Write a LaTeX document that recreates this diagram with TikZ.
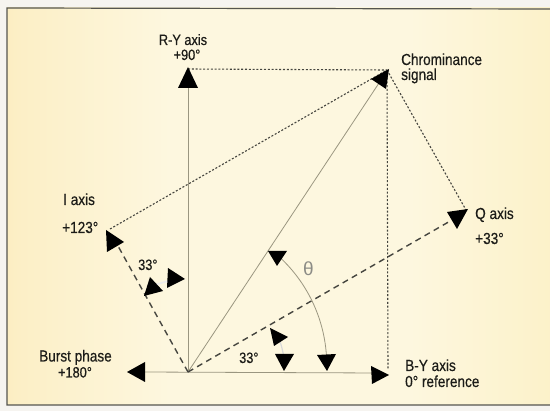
\documentclass[tikz,border=0pt]{standalone}
\usepackage{fontspec}
\setmainfont{Liberation Sans}[FakeStretch=0.85, FakeBold=0.4]
\newfontfamily\thetafont{Liberation Sans}
\definecolor{outside}{HTML}{F6F4F0}
\definecolor{bgA}{HTML}{FAE4A0}
\definecolor{bgB}{HTML}{FCEFC6}
\definecolor{bgC}{HTML}{FDF7DF}
\definecolor{bgD}{HTML}{FCF1C8}
\definecolor{bgE}{HTML}{F9E484}
\definecolor{bgF}{HTML}{F6DC58}
\definecolor{framecol}{HTML}{55554F}
\definecolor{inkcol}{HTML}{1C1C18}
\definecolor{solidcol}{HTML}{9A9680}
\definecolor{dashcol}{HTML}{45453F}
\definecolor{thetacol}{HTML}{8C8C86}
\pgfdeclarehorizontalshading{bgshade}{100bp}{color(0bp)=(bgA); color(16bp)=(bgA); color(26bp)=(bgB); color(40bp)=(bgC); color(62bp)=(bgC); color(76bp)=(bgD); color(88bp)=(bgE); color(100bp)=(bgF)}
\tikzset{
  framestyle/.style={draw=framecol, line width=1.2pt},
  solidline/.style={draw=solidcol, line width=0.8pt},
  dotline/.style={draw=dashcol, line width=1.1pt, dash pattern=on 2pt off 1.8pt},
  dashline/.style={draw=dashcol, line width=1.4pt, dash pattern=on 6pt off 4.5pt},
  arcline/.style={draw=solidcol, line width=0.8pt},
  faintarc/.style={draw=white!85!gray, line width=1.6pt},
  tipfill/.style={fill=black},
  lbl/.style={inner sep=0pt, text=inkcol, font=\fontsize{16}{18}\selectfont},
}
\begin{document}
\begin{tikzpicture}[x=1pt,y=-1pt]
\useasboundingbox (0,0) rectangle (550,411);
\fill[outside] (0,0) rectangle (550,411);
\shade[shading=bgshade] (7,8) rectangle (550,405);
\draw[framestyle] (550,9) -- (7,8) -- (7,405) -- (550,405);

% key points
\coordinate (O) at (188,372);
\coordinate (RY) at (188,69);
\coordinate (RYb) at (188,84);
\coordinate (C) at (387,70);
\coordinate (Cs) at (381,80);
\coordinate (I) at (110,229);
\coordinate (Ie) at (118,246);
\coordinate (Q) at (466,210);
\coordinate (Qe) at (452,220);
\coordinate (BY) at (378,373);
\coordinate (BP) at (142,372);
\coordinate (Cv) at (388,369);
\coordinate (Ts) at (280,257.5);
\coordinate (Fa) at (153.2,285.8);
\coordinate (Fb) at (279.1,338.8);

% solid lines
\draw[solidline] (BP) -- (BY);
\draw[solidline] (O) -- (RYb);
\draw[solidline] (O) -- (Cs);

% dotted construction lines
\draw[dotline] (RY) -- (C);
\draw[dotline] (I) -- (C);
\draw[dotline] (C) -- (Q);
\draw[dotline] (C) -- (Cv);

% dashed axes
\draw[dashline] (O) -- (Ie);
\draw[dashline] (O) -- (Qe);

% angle arcs
\draw[arcline] (Ts) arc[start angle=-47, end angle=-3, radius=147];
\draw[faintarc] (Fa) arc[start angle=-112, end angle=-97, radius=93];
\draw[draw=white!70!gray, line width=1.2pt] (Fb) arc[start angle=-20, end angle=-8, radius=97];

% arrowheads
\fill[tipfill] (188,67) -- (198,88) -- (178,88) -- cycle;          % R-Y
\fill[tipfill] (389,69) -- (386,89) -- (371,79) -- cycle;          % chrominance
\fill[tipfill] (447,212) -- (468,209) -- (457,229) -- cycle;       % Q
\fill[tipfill] (106,230) -- (124,242) -- (107,252) -- cycle;       % I
\fill[tipfill] (150,277) -- (163,291) -- (144,296) -- cycle;       % 33 a
\fill[tipfill] (168,268) -- (185,279) -- (167,288) -- cycle;       % 33 b
\fill[tipfill] (268,251) -- (287,251) -- (277,266) -- cycle;       % theta start
\fill[tipfill] (317,355) -- (336,354) -- (327,371) -- cycle;       % theta end
\fill[tipfill] (270,328) -- (288,337) -- (274,346) -- cycle;       % 33 bottom a
\fill[tipfill] (275,354) -- (294,354) -- (284,371) -- cycle;       % 33 bottom b
\fill[tipfill] (371,366) -- (389,375) -- (372,384) -- cycle;       % B-Y
\fill[tipfill] (127,372) -- (145,362) -- (145,382) -- cycle;       % burst

% labels
\node[lbl, anchor=base, font=\fontsize{15}{17}\selectfont] (ryl) at (183,45) {R-Y axis};
\node[lbl, anchor=base, font=\fontsize{15}{17}\selectfont] (ryd) at (187,60) {+90°};
\node[lbl, anchor=base west] (chl) at (401,65) {Chrominance};
\node[lbl, anchor=base west] (chs) at (401,80) {signal};
\node[lbl, anchor=base west] (iax) at (63,205) {I axis};
\node[lbl, anchor=base west] (iad) at (62,233) {+123°};
\node[lbl, anchor=base west] (qax) at (475,219) {Q axis};
\node[lbl, anchor=base west] (qad) at (475,244) {+33°};
\node[lbl, anchor=base] (bpl) at (75.5,361.5) {Burst phase};
\node[lbl, anchor=base, font=\fontsize{15}{17}\selectfont] (bpd) at (75,377.5) {+180°};
\node[lbl, anchor=base west] (byl) at (405,371) {B-Y axis};
\node[lbl, anchor=base west] (byr) at (405,387) {0° reference};
\node[lbl, anchor=base west, font=\fontsize{15}{17}\selectfont] (ang1) at (138,270) {33°};
\node[lbl, anchor=base west, font=\fontsize{15}{17}\selectfont] (ang2) at (239,363) {33°};
\node[inner sep=0pt, text=thetacol, font=\thetafont\fontsize{19}{20}\selectfont] (th) at (308.5,268.5) {θ};
\end{tikzpicture}
\end{document}
